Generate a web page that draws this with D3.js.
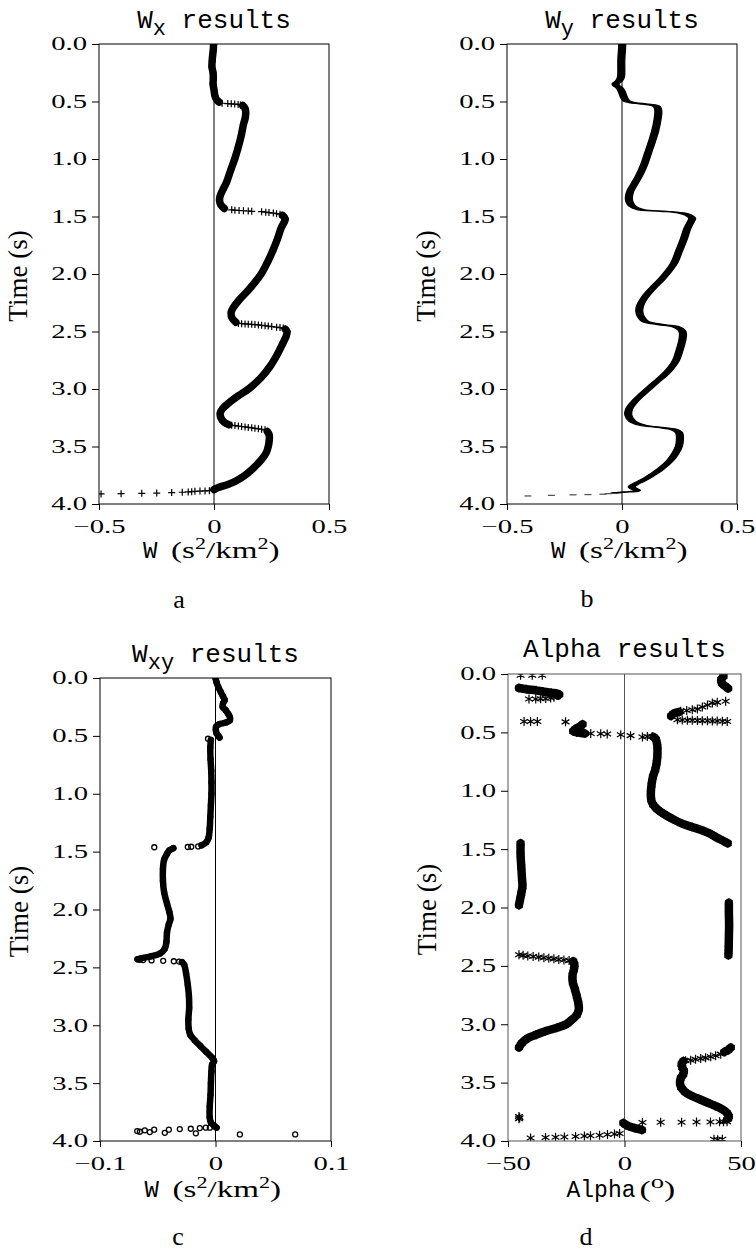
<!DOCTYPE html>
<html>
<head>
<meta charset="utf-8">
<script src="https://cdn.jsdelivr.net/npm/d3@7"></script>
<style>
body { margin: 0; background: white; }
</style>
</head>
<body>
<div id="canvas"></div>
<script>

// tick values
const timeTicks = [0, 0.5, 1, 1.5, 2, 2.5, 3, 3.5, 4];
const wTicks = [-0.5, 0, 0.5];
const wxyTicks = [-0.1, 0, 0.1];
const alphaTicks = [-50, 0, 50];

// [time (s), value]
// Wx: dense stretches (drawn as a thick band) and the single "+" marks between them
const wxSegments = [
  [[0.00,-0.002],[0.05,-0.003],[0.10,-0.006],[0.15,-0.008],[0.20,-0.009],[0.25,-0.004],[0.30,-0.003],[0.35,-0.004],[0.40,0.000],[0.45,0.004],[0.48,0.010],[0.505,0.022]],
  [[0.535,0.125],[0.56,0.135],[0.60,0.138],[0.65,0.135],[0.70,0.128],[0.80,0.118],[0.90,0.105],[1.00,0.09],[1.10,0.072],[1.20,0.055],[1.27,0.038],[1.32,0.027],[1.36,0.024],[1.40,0.030],[1.43,0.045]],
  [[1.49,0.298],[1.52,0.31],[1.55,0.305],[1.60,0.292],[1.70,0.275],[1.80,0.255],[1.90,0.232],[2.00,0.205],[2.08,0.175],[2.15,0.145],[2.22,0.112],[2.28,0.088],[2.33,0.075],[2.38,0.078],[2.42,0.095]],
  [[2.48,0.31],[2.50,0.318],[2.55,0.312],[2.60,0.30],[2.70,0.275],[2.80,0.245],[2.90,0.205],[3.00,0.15],[3.06,0.105],[3.12,0.065],[3.17,0.038],[3.21,0.027],[3.25,0.03],[3.29,0.045],[3.31,0.065]],
  [[3.37,0.232],[3.40,0.24],[3.45,0.24],[3.50,0.236],[3.55,0.228],[3.60,0.212],[3.65,0.19],[3.70,0.165],[3.75,0.135],[3.80,0.095],[3.83,0.06],[3.86,0.015],[3.875,0.0]]
];
const wxScatter = [
  [0.515,0.035],[0.518,0.06],[0.52,0.075],[0.522,0.09],[0.525,0.105],[0.53,0.115],
  [1.442,0.077],[1.445,0.091],[1.448,0.109],[1.45,0.128],[1.452,0.149],[1.455,0.164],[1.458,0.207],[1.462,0.225],[1.466,0.239],[1.47,0.258],[1.475,0.272],[1.48,0.287],
  [2.43,0.106],[2.432,0.12],[2.434,0.135],[2.436,0.149],[2.438,0.164],[2.44,0.178],[2.443,0.193],[2.446,0.207],[2.45,0.222],[2.453,0.236],[2.457,0.251],[2.462,0.272],[2.466,0.287],[2.47,0.301],
  [3.315,0.077],[3.318,0.091],[3.322,0.106],[3.326,0.12],[3.33,0.135],[3.334,0.149],[3.338,0.164],[3.342,0.178],[3.346,0.193],[3.35,0.207],[3.355,0.222],
  [3.884,-0.02],[3.886,-0.039],[3.888,-0.061],[3.89,-0.083],[3.893,-0.097],[3.895,-0.112],[3.898,-0.138],[3.901,-0.184],[3.905,-0.249],[3.907,-0.314],[3.91,-0.404],[3.912,-0.491]
];

// Wy: one continuous trace plus the dash marks of the tail
const wySegments = [
  [[0.00,0.001],[0.05,0.0],[0.10,-0.002],[0.15,-0.003],[0.20,-0.003],[0.25,-0.003],[0.29,-0.005],[0.32,-0.013],[0.345,-0.028],[0.36,-0.026],[0.38,-0.012],[0.41,-0.002],[0.44,0.004],[0.47,0.01],[0.495,0.02],[0.51,0.045],[0.52,0.09],[0.53,0.13],[0.545,0.152],[0.58,0.158],[0.65,0.155],[0.75,0.145],[0.85,0.13],[0.95,0.113],[1.05,0.096],[1.15,0.073],[1.22,0.053],[1.28,0.036],[1.33,0.03],[1.37,0.032],[1.41,0.045],[1.44,0.08],[1.455,0.18],[1.47,0.26],[1.49,0.29],[1.515,0.305],[1.55,0.298],[1.60,0.285],[1.70,0.268],[1.80,0.248],[1.90,0.228],[1.98,0.2],[2.05,0.17],[2.12,0.135],[2.20,0.1],[2.27,0.08],[2.32,0.075],[2.37,0.082],[2.41,0.1],[2.44,0.17],[2.46,0.235],[2.49,0.26],[2.52,0.265],[2.58,0.262],[2.65,0.252],[2.75,0.235],[2.85,0.198],[2.95,0.142],[3.05,0.085],[3.12,0.05],[3.18,0.03],[3.23,0.028],[3.28,0.045],[3.315,0.09],[3.335,0.17],[3.355,0.23],[3.38,0.248],[3.42,0.252],[3.50,0.247],[3.56,0.232],[3.62,0.21],[3.70,0.165],[3.76,0.12],[3.80,0.085],[3.83,0.055],[3.85,0.042],[3.865,0.05],[3.88,0.065],[3.89,0.055],[3.895,0.02],[3.90,-0.01],[3.905,-0.035]]
];
const wyScatter = [
  [3.91,-0.06],[3.915,-0.083],[3.918,-0.148],[3.92,-0.213],[3.925,-0.307],[3.93,-0.409]
];

// Wxy
const wxySegments = [
  [[0.00,0.0],[0.04,0.001],[0.08,0.0025],[0.12,0.0045],[0.16,0.0065],[0.19,0.008],[0.22,0.0065],[0.25,0.0062],[0.28,0.009],[0.31,0.011],[0.34,0.0125],[0.365,0.0125],[0.385,0.009],[0.40,0.003],[0.42,0.0005],[0.45,0.0003],[0.48,0.001],[0.50,0.0025],[0.515,0.0035]],
  [[0.535,-0.004],[0.60,-0.0045],[0.70,-0.0043],[0.80,-0.0037],[0.90,-0.0035],[1.00,-0.0035],[1.10,-0.004],[1.20,-0.0045],[1.30,-0.005],[1.38,-0.006],[1.42,-0.008],[1.445,-0.012]],
  [[1.47,-0.0365],[1.49,-0.04],[1.52,-0.042],[1.57,-0.0445],[1.65,-0.0455],[1.75,-0.0455],[1.85,-0.0445],[1.95,-0.042],[2.02,-0.04],[2.08,-0.039],[2.13,-0.0405],[2.20,-0.042],[2.28,-0.0425],[2.34,-0.044],[2.38,-0.048],[2.405,-0.056],[2.42,-0.064],[2.43,-0.0675]],
  [[2.455,-0.029],[2.48,-0.027],[2.55,-0.0255],[2.65,-0.024],[2.75,-0.023],[2.85,-0.0228],[2.95,-0.0235],[3.03,-0.0232],[3.08,-0.022],[3.13,-0.018],[3.18,-0.013],[3.23,-0.008],[3.28,-0.003],[3.31,-0.0012],[3.34,-0.003],[3.40,-0.0035],[3.50,-0.004],[3.60,-0.0043],[3.70,-0.005],[3.80,-0.005],[3.84,-0.004],[3.87,-0.001],[3.885,0.0009]]
];
const wxyScatter = [
  [0.525,-0.0065],
  [1.455,-0.015],[1.458,-0.021],[1.46,-0.024],[1.462,-0.053],
  [2.435,-0.0655],[2.437,-0.0626],[2.44,-0.0554],[2.443,-0.0453],[2.447,-0.0361],[2.45,-0.0315],
  [3.885,-0.0084],[3.885,-0.0049],[3.888,-0.0136],[3.894,-0.0214],[3.897,-0.0309],[3.902,-0.0404],[3.902,-0.0531],[3.908,-0.0612],[3.914,-0.0678],[3.92,-0.0655],[3.923,-0.0569],[3.929,-0.0439],[3.934,-0.017],[3.943,0.0211],[3.943,0.069]
];

// Alpha (degrees)
const alphaSegments = [
  [[0.12,-45.3],[0.13,-42],[0.14,-38],[0.15,-35],[0.16,-31.5],[0.175,-28],[0.185,-28.5]],
  [[0.02,42.5],[0.05,41.5],[0.08,41.8],[0.10,43],[0.125,44.5]],
  [[0.325,23.5],[0.34,21],[0.36,20]],
  [[0.43,-18],[0.45,-19],[0.47,-21],[0.49,-22],[0.50,-20.5],[0.51,-17]],
  [[0.54,12.5],[0.56,13.5],[0.62,14.1],[0.70,14.1],[0.76,13.8],[0.82,13.2],[0.88,12.2],[0.95,11.6],[1.02,11.3],[1.08,11.5],[1.12,12.3],[1.16,14.2],[1.20,17],[1.24,20.5],[1.28,24.5],[1.31,29],[1.34,33.5],[1.37,37],[1.40,39.5],[1.43,42.5],[1.45,44.3]],
  [[1.45,-44.6],[1.55,-44.6],[1.65,-44.3],[1.75,-44],[1.82,-43.8],[1.88,-44.3],[1.93,-44.8],[1.98,-45.3]],
  [[1.96,44.8],[2.05,44.8],[2.15,44.9],[2.25,44.8],[2.35,44.7],[2.41,44.6]],
  [[2.46,-22],[2.49,-21.5],[2.53,-21.7],[2.58,-22.3],[2.64,-22.2],[2.70,-21.3],[2.76,-20.5],[2.82,-19.8],[2.87,-19.6],[2.92,-20.5],[2.96,-22.5],[3.0,-25],[3.03,-29],[3.06,-34],[3.09,-38],[3.12,-41.5],[3.16,-44],[3.2,-45.3]],
  [[3.20,45.6],[3.22,44.5],[3.235,43]],
  [[3.315,25.3],[3.34,24.5],[3.37,24.8],[3.40,25.5],[3.43,25.2],[3.46,24.2],[3.50,23.8],[3.54,24.3],[3.58,26],[3.61,28.5],[3.64,32],[3.67,35.5],[3.70,39],[3.73,42],[3.76,44],[3.79,44.8],[3.81,44.5]],
  [[3.845,-0.5],[3.86,0.5],[3.875,2],[3.89,4.5],[3.905,7.5]]
];
const alphaScatter = [
  [0.01,-44.6],[0.01,-39.6],[0.01,-35.3],
  [0.215,-41],[0.215,-38.1],[0.212,-36],[0.21,-33.8],[0.205,-31.7],[0.2,-30.3],
  [0.406,-43.1],[0.406,-40.3],[0.406,-37.4],[0.41,-25.3],
  [0.51,-14.5],[0.512,-10.2],[0.514,-7.4],[0.52,-1.6],[0.528,2.6],[0.54,7.7],[0.535,9.8],[0.535,11.9],
  [0.234,43.4],[0.243,39.8],[0.249,37.7],[0.266,35.6],[0.283,33.4],[0.30,31.3],[0.306,29.1],[0.312,26.7],[0.32,24.1],
  [0.392,22.7],[0.394,24.8],[0.396,27],[0.397,29.1],[0.399,31.3],[0.40,33.4],[0.401,35.6],[0.402,37.7],[0.403,39.8],[0.405,42],[0.406,44.1],
  [2.405,-45.3],[2.41,-43.5],[2.415,-41.5],[2.42,-39.2],[2.425,-36.8],[2.43,-34.6],[2.435,-32.5],[2.44,-30.3],[2.445,-28.2],[2.45,-26],[2.455,-23.8],
  [3.236,43.4],[3.256,41.3],[3.27,39.1],[3.279,37],[3.288,34.8],[3.293,32.7],[3.30,30.5],[3.308,28.4],[3.313,26.2],
  [3.79,-45.3],[3.80,-45.0],[3.81,-45.3],
  [3.835,44],[3.835,42.5],[3.836,40.8],[3.837,36.9],[3.838,30.9],[3.839,24.5],[3.84,15.5],[3.842,7.7],
  [3.935,-2.1],[3.94,-4.3],[3.945,-7.3],[3.95,-10.7],[3.955,-14.6],[3.958,-17.2],[3.962,-21],[3.966,-25.8],[3.968,-29.6],[3.97,-33.9],[3.975,-40.3],
  [3.985,38.4],[3.99,40],[3.985,42]
];

var w = 756;
var h = 1251;
var mono = "'Liberation Mono', 'DejaVu Sans Mono', monospace";
var serif = "'Liberation Serif', 'DejaVu Serif', serif";

var svg = d3.select("#canvas")
    .append("svg")
    .attr("width", w)
    .attr("height", h)
    .style("background-color", "white");

function fmtOne(d) { return d === 0 ? "0" : d3.format(".1f")(d); }

// marker shapes, centred on 0,0
var markerPaths = {
  plus: "M-3.5,0H3.5M0,-3.5V3.5",
  dash: "M-3.5,0H3.5",
  asterisk: "M0,-4.5V4.5M-3.9,-2.25L3.9,2.25M-3.9,2.25L3.9,-2.25"
};

var panels = [
  {id: "a", left: 99, top: 44, width: 230, height: 460, xDomain: [-0.5, 0.5], xTicks: wTicks, xFormat: fmtOne,
   segments: wxSegments, scatter: wxScatter, marker: "plus", band: 7.5, color: "#000",
   title: ["W", "x", " results"], titleY: 28, label: "w", labelY: 558, sub: "a", subX: 179, subY: 608},
  {id: "b", left: 507, top: 44, width: 230, height: 460, xDomain: [-0.5, 0.5], xTicks: wTicks, xFormat: fmtOne,
   segments: wySegments, scatter: wyScatter, marker: "dash", band: 7, color: "#000", area: true,
   title: ["W", "y", " results"], titleY: 28, label: "w", labelY: 558, sub: "b", subX: 587, subY: 607},
  {id: "c", left: 100, top: 678, width: 231, height: 463, xDomain: [-0.1, 0.1], xTicks: wxyTicks, xFormat: fmtOne,
   segments: wxySegments, scatter: wxyScatter, marker: "circle", band: 6.5, color: "#000",
   title: ["W", "xy", " results"], titleY: 662, label: "w", labelY: 1197, sub: "c", subX: 178, subY: 1245},
  {id: "d", left: 508, top: 674, width: 233, height: 467, xDomain: [-50, 50], xTicks: alphaTicks, xFormat: d3.format("d"),
   segments: alphaSegments, scatter: alphaScatter, marker: "asterisk", band: 8.5, color: "#555",
   title: ["Alpha results"], titleY: 657, label: "alpha", labelY: 1197, sub: "d", subX: 586, subY: 1245}
];

panels.forEach(drawPanel);

function drawPanel(p) {
  var x = d3.scaleLinear().domain(p.xDomain).range([p.left, p.left + p.width]);
  var y = d3.scaleLinear().domain([0, 4]).range([p.top, p.top + p.height]);
  var cx = p.left + p.width / 2;

  svg.append("clipPath").attr("id", "clip-" + p.id)
    .append("rect")
    .attr("x", p.left).attr("y", p.top)
    .attr("width", p.width).attr("height", p.height);

  var plot = svg.append("g").attr("clip-path", "url(#clip-" + p.id + ")");

  // zero line
  plot.append("line")
    .attr("x1", x(0)).attr("x2", x(0))
    .attr("y1", p.top).attr("y2", p.top + p.height)
    .attr("stroke", p.color).attr("stroke-width", 1);

  // dense stretches of the trace
  if (p.area) {
    var area = d3.area()
      .y(d => y(d[0]))
      .x0(d => x(d[1]) - p.band / 2)
      .x1(d => x(d[1]) + p.band / 2)
      .curve(d3.curveCatmullRom);
    plot.selectAll(".band").data(p.segments).join("path")
      .attr("class", "band")
      .attr("d", area)
      .attr("fill", "#000")
      .attr("stroke", "#000")
      .attr("stroke-width", 1.2);
  } else {
    var line = d3.line()
      .x(d => x(d[1]))
      .y(d => y(d[0]))
      .curve(d3.curveCatmullRom);
    plot.selectAll(".band").data(p.segments).join("path")
      .attr("class", "band")
      .attr("d", line)
      .attr("fill", "none")
      .attr("stroke", "#000")
      .attr("stroke-width", p.band)
      .attr("stroke-linecap", "round")
      .attr("stroke-linejoin", "round");
  }

  // single markers
  var pts = p.area ? p.scatter : p.segments.flat().concat(p.scatter);
  if (p.marker === "circle") {
    plot.selectAll(".mk").data(pts).join("circle")
      .attr("class", "mk")
      .attr("cx", d => x(d[1]))
      .attr("cy", d => y(d[0]))
      .attr("r", 2.5)
      .attr("fill", "none")
      .attr("stroke", "#000")
      .attr("stroke-width", 1.3);
  } else {
    plot.selectAll(".mk").data(pts).join("path")
      .attr("class", "mk")
      .attr("transform", d => `translate(${x(d[1])},${y(d[0])})`)
      .attr("d", markerPaths[p.marker])
      .attr("fill", "none")
      .attr("stroke", p.marker === "dash" ? "#555" : "#000")
      .attr("stroke-width", p.marker === "dash" ? 1.3 : 1.2);
  }

  // frame
  svg.append("rect")
    .attr("x", p.left).attr("y", p.top)
    .attr("width", p.width).attr("height", p.height)
    .attr("fill", "none")
    .attr("stroke", p.color)
    .attr("stroke-width", 1);

  // axes
  var sx = 1.55;
  var yAxis = svg.append("g")
    .attr("transform", `translate(${p.left},0)`)
    .call(d3.axisLeft(y).tickValues(timeTicks).tickSize(7).tickSizeOuter(0).tickPadding(5).tickFormat(d3.format(".1f")));
  yAxis.select(".domain").remove();
  yAxis.selectAll(".tick line").attr("stroke", "#000");
  yAxis.selectAll("text")
    .attr("x", -12 / sx)
    .attr("transform", `scale(${sx},1)`)
    .style("font-family", serif)
    .style("font-size", "18.5px")
    .attr("fill", "#000");

  var xAxis = svg.append("g")
    .attr("transform", `translate(0,${p.top + p.height})`)
    .call(d3.axisBottom(x).tickValues(p.xTicks).tickSize(6).tickSizeOuter(0).tickPadding(10).tickFormat(p.xFormat));
  xAxis.select(".domain").remove();
  xAxis.selectAll(".tick line").attr("stroke", "#000");
  xAxis.selectAll("text")
    .attr("transform", `scale(${sx},1)`)
    .attr("x", 0)
    .style("font-family", serif)
    .style("font-size", "18.5px")
    .attr("fill", "#000");

  // title
  var title = svg.append("text")
    .attr("x", cx).attr("y", p.titleY)
    .attr("text-anchor", "middle")
    .style("font-family", mono)
    .style("font-size", "26px")
    .style("white-space", "pre");
  if (p.title.length === 1) {
    title.text(p.title[0]);
  } else {
    title.append("tspan").text(p.title[0]);
    title.append("tspan").attr("dy", 7).style("font-size", "22px").text(p.title[1]);
    title.append("tspan").attr("dy", -7).text(p.title[2]);
  }

  // x label
  if (p.label === "w") {
    svg.append("text")
      .attr("x", cx - 71).attr("y", p.labelY)
      .style("font-family", mono).style("font-size", "24px")
      .text("W");
    var rest = svg.append("text")
      .attr("transform", `translate(${cx - 43},${p.labelY}) scale(1.38,1)`)
      .style("font-family", serif).style("font-size", "24px");
    rest.append("tspan").text("(s");
    rest.append("tspan").attr("dy", -9).style("font-size", "16px").text("2");
    rest.append("tspan").attr("dy", 9).text("/km");
    rest.append("tspan").attr("dy", -9).style("font-size", "16px").text("2");
    rest.append("tspan").attr("dy", 9).text(")");
  } else {
    svg.append("text")
      .attr("x", cx - 58).attr("y", p.labelY)
      .style("font-family", mono).style("font-size", "23px")
      .text("Alpha");
    var rest2 = svg.append("text")
      .attr("transform", `translate(${cx + 15},${p.labelY}) scale(1.4,1)`)
      .style("font-family", serif).style("font-size", "24px");
    rest2.append("tspan").text("(");
    rest2.append("tspan").attr("dy", -9).style("font-size", "19px").text("o");
    rest2.append("tspan").attr("dy", 9).text(")");
  }

  // y label
  svg.append("text")
    .attr("transform", `translate(${p.left - 72},${p.top + p.height / 2 + 2}) rotate(-90)`)
    .attr("text-anchor", "middle")
    .style("font-family", serif)
    .style("font-size", "27px")
    .text("Time (s)");

  // panel letter
  svg.append("text")
    .attr("x", p.subX).attr("y", p.subY)
    .attr("text-anchor", "middle")
    .style("font-family", serif)
    .style("font-size", "26px")
    .text(p.sub);
}
</script>
</body>
</html>
